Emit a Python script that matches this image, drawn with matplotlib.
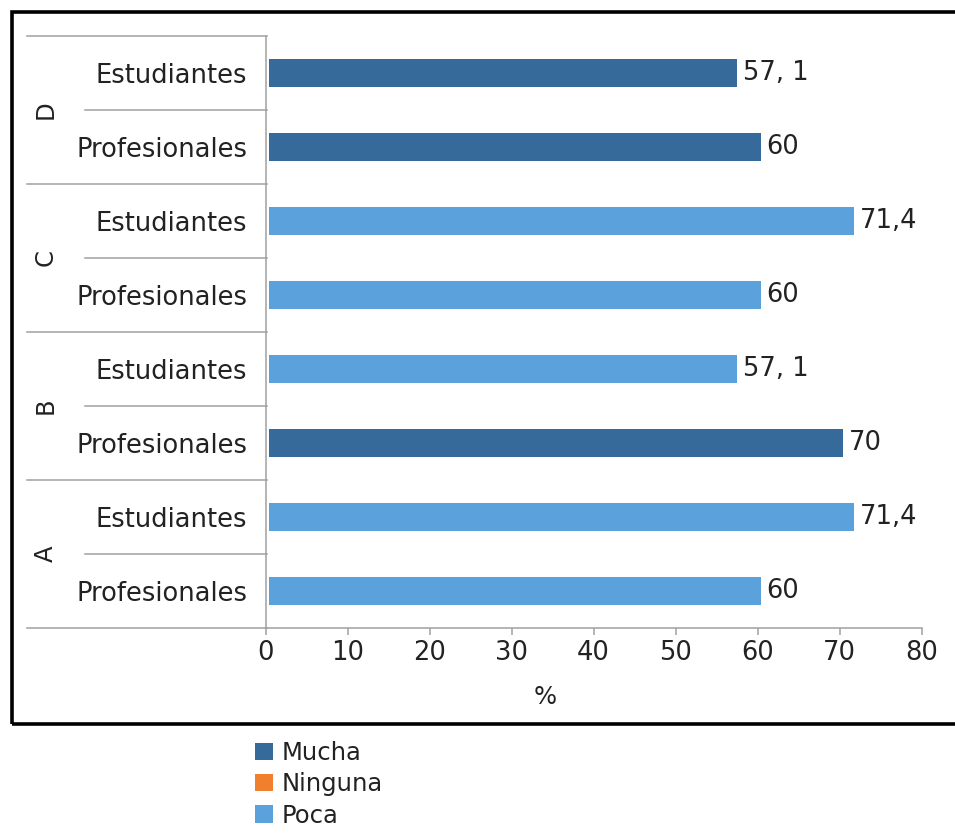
import matplotlib
matplotlib.use("Agg")
import matplotlib.pyplot as plt
import matplotlib.transforms as mtransforms
from matplotlib.patches import Patch, Rectangle
from matplotlib.lines import Line2D

plt.rcParams["font.family"] = ["DejaVu Sans"]

# ---- data (bottom to top) ----
groups = ["A", "A", "B", "B", "C", "C", "D", "D"]
roles = ["Profesionales", "Estudiantes", "Profesionales", "Estudiantes",
         "Profesionales", "Estudiantes", "Profesionales", "Estudiantes"]
values = [60, 71.4, 70, 57.1, 60, 71.4, 60, 57.1]
value_labels = ["60", "71,4", "70", "57, 1", "60", "71,4", "60", "57, 1"]
series = ["Poca", "Poca", "Mucha", "Poca", "Poca", "Poca", "Mucha", "Mucha"]
group_names = ["A", "B", "C", "D"]
legend_series = ["Mucha", "Ninguna", "Poca"]
series_colors = {"Mucha": "#366a9b", "Ninguna": "#f07f2e", "Poca": "#5ba2dd"}
x_ticks = [0, 10, 20, 30, 40, 50, 60, 70, 80]
x_label = "%"

W, H = 955, 834
fig = plt.figure(figsize=(W / 100, H / 100), dpi=100)
fig.patch.set_facecolor("white")

ax_left, ax_right, ax_top, ax_bot = 265.5, 921.5, 36, 628
ax = fig.add_axes([ax_left / W, 1 - ax_bot / H, (ax_right - ax_left) / W, (ax_bot - ax_top) / H])

txt_color = "#222222"
line_color = "#a0a0a0"
fs = 18.5

ypos = list(range(len(values)))
shift = mtransforms.ScaledTranslation(3.5 / 100, 0, fig.dpi_scale_trans)
bars = ax.barh(ypos, values, height=0.38,
               color=[series_colors[s] for s in series], zorder=3)
for b in bars:
    b.set_transform(ax.transData + shift)

lab_shift = mtransforms.ScaledTranslation(9 / 100, 0, fig.dpi_scale_trans)
for y, v, lab in zip(ypos, values, value_labels):
    ax.text(v, y, lab, ha="left", va="center", fontsize=fs, color=txt_color,
            transform=ax.transData + lab_shift, clip_on=False)

ax.set_xlim(0, 80)
ax.set_ylim(-0.5, len(values) - 0.5)
ax.set_xticks(x_ticks)
ax.set_xticklabels([str(t) for t in x_ticks], fontsize=fs, color=txt_color)
ax.tick_params(axis="x", direction="out", length=5, width=1.1, color=line_color, pad=4)
ax.set_yticks(ypos)
ax.set_yticklabels(roles, fontsize=fs, color=txt_color)
ax.tick_params(axis="y", length=0, pad=13)

for s in ["top", "right"]:
    ax.spines[s].set_visible(False)
for s in ["left", "bottom"]:
    ax.spines[s].set_color(line_color)
    ax.spines[s].set_linewidth(1.1)

# separator lines for the two-level category axis
axw = ax_right - ax_left
outer_x = (27 - ax_left) / axw
inner_x = (85 - ax_left) / axw
trans = mtransforms.blended_transform_factory(ax.transAxes, ax.transData)
n_groups = len(group_names)
for gi in range(n_groups + 1):
    yb = gi * 2 - 0.5
    ax.add_line(Line2D([outer_x, 0.003], [yb, yb], transform=trans, color=line_color,
                       lw=1.1, clip_on=False))
for gi in range(n_groups):
    yi = gi * 2 + 0.5
    ax.add_line(Line2D([inner_x, 0.003], [yi, yi], transform=trans, color=line_color,
                       lw=1.1, clip_on=False))
    ax.text((46 - ax_left) / axw, yi, group_names[gi], rotation=90, ha="center",
            va="center", fontsize=fs - 1, color=txt_color, transform=trans, clip_on=False)

fig.text(545 / W, 1 - 697 / H, x_label, ha="center", va="center", fontsize=fs - 1,
         color=txt_color)

# outer border
fig.add_artist(Rectangle((12 / W, 1 - 724 / H), 1.2, (724 - 12) / H,
                         transform=fig.transFigure, fill=False, ec="black", lw=2.6))

handles = [Patch(facecolor=series_colors[s], edgecolor="none") for s in legend_series]
leg = fig.legend(handles, legend_series, loc="upper left",
                 bbox_to_anchor=(255 / W, 1 - 741 / H), frameon=False,
                 fontsize=17.5, handlelength=0.72, handleheight=0.72,
                 handletextpad=0.38, labelspacing=0.3, borderpad=0, borderaxespad=0)
for t in leg.get_texts():
    t.set_color(txt_color)

fig.savefig("out.png", dpi=100)
